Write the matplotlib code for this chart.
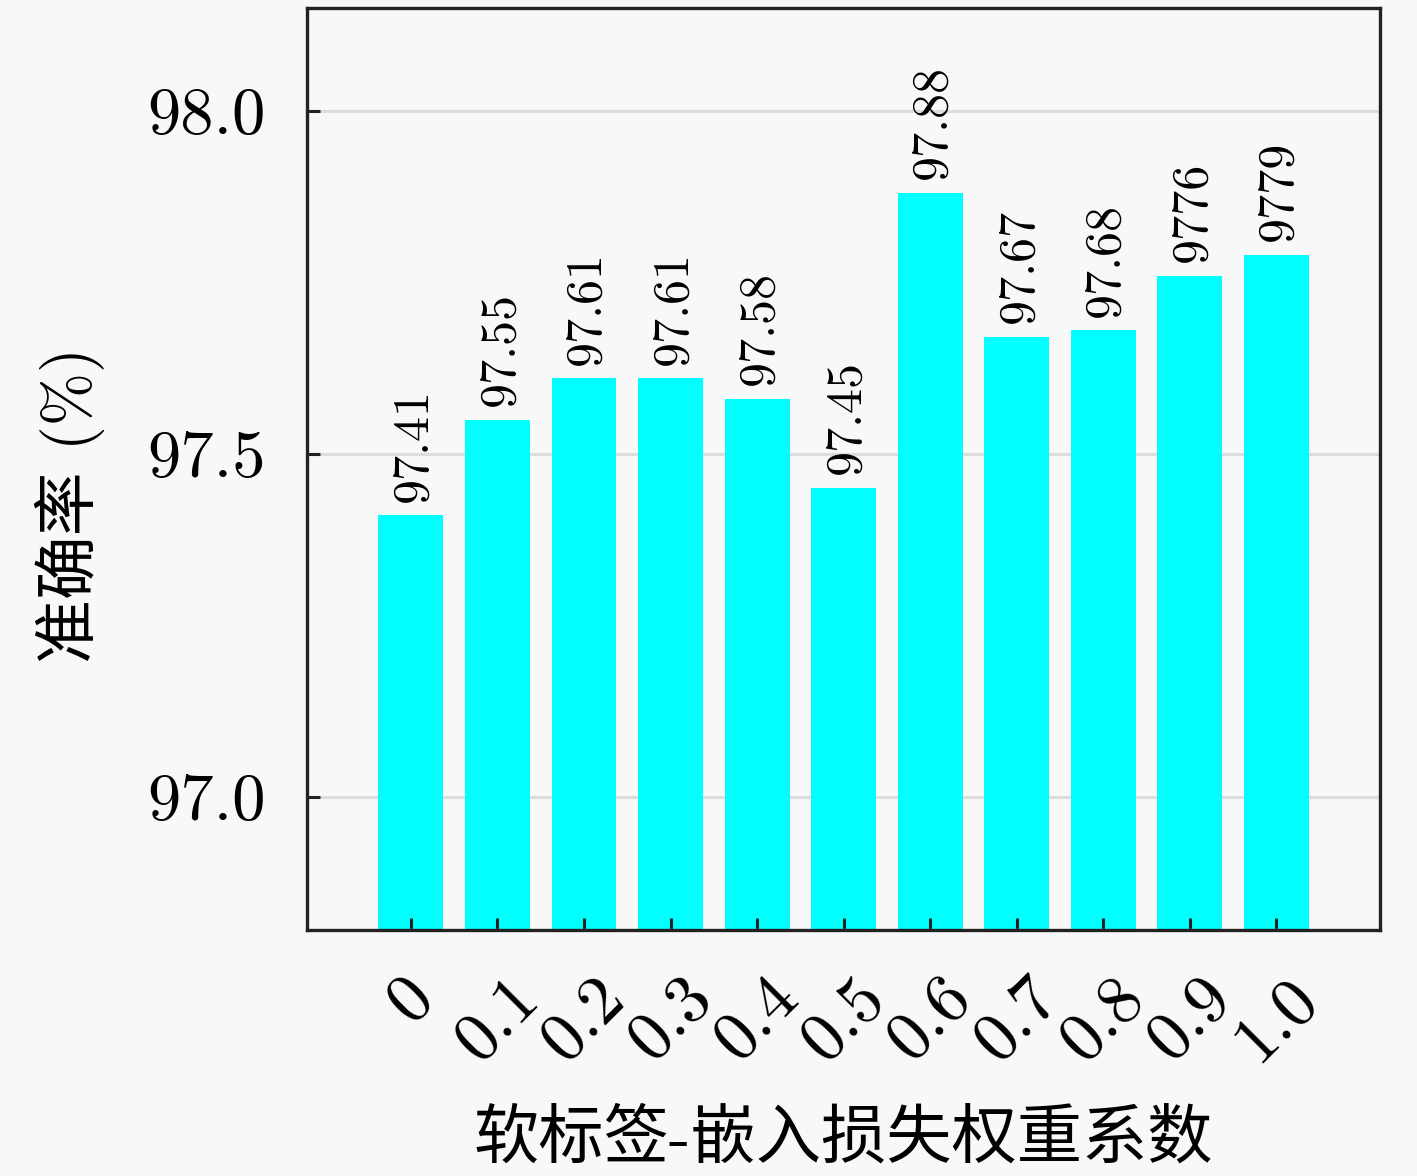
import matplotlib
matplotlib.use("Agg")
import matplotlib.pyplot as plt
import numpy as np

categories = ["0", "0.1", "0.2", "0.3", "0.4", "0.5", "0.6", "0.7", "0.8", "0.9", "1.0"]
values = [97.41, 97.55, 97.61, 97.61, 97.58, 97.45, 97.88, 97.67, 97.68, 97.76, 97.79]
value_labels = ["97.41", "97.55", "97.61", "97.61", "97.58", "97.45", "97.88", "97.67", "97.68", "9776", "9779"]
yticks = [97.0, 97.5, 98.0]
ytick_labels = ["97.0", "97.5", "98.0"]
xlabel = "软标签-嵌入损失权重系数"
ylabel = "准确率 (%)"

num_font = ["cmr10", "DejaVu Serif"]
mixed_font = ["cmr10", "Noto Sans CJK SC", "DejaVu Sans"]
bg = "#f8f8f8"

fig = plt.figure(figsize=(14.17, 11.76), dpi=100, facecolor=bg)
ax = fig.add_axes([0.2167, 0.209, 0.974 - 0.2167, 0.993 - 0.209])
ax.set_facecolor(bg)

x = np.arange(len(categories))
for yt in yticks:
    ax.axhline(yt, color="#dcdcdc", linewidth=2.2, zorder=0.5)
ax.bar(x, values, width=0.75, color="#00FFFF", zorder=2)

for xi, v, lab in zip(x, values, value_labels):
    ax.annotate(lab, (xi, v), xytext=(2, 10), textcoords="offset points",
                rotation=90, ha="center", va="bottom", fontsize=36,
                family=num_font, zorder=3)

ax.set_xlim(-1.2, 11.2)
ax.set_ylim(96.805, 98.15)
ax.set_yticks(yticks)
ax.set_yticklabels(ytick_labels, family=num_font, fontsize=48)
ax.set_xticks(x)
ax.set_xticklabels(categories, family=num_font, fontsize=50, rotation=45, ha="center")
ax.set_axisbelow(False)

ax.tick_params(axis="both", direction="in", length=9, width=2.2, color="#222222")
ax.tick_params(axis="y", pad=30)
ax.tick_params(axis="x", pad=26)
for s in ax.spines.values():
    s.set_linewidth(2.4)
    s.set_color("#222222")
    s.set_zorder(5)

ax.set_xlabel(xlabel, family=mixed_font, fontsize=47, labelpad=27)
ax.set_ylabel(ylabel, family=mixed_font, fontsize=46)
ax.yaxis.set_label_coords(-0.188, 0.461)

fig.savefig("out.png", dpi=100, facecolor=bg)
